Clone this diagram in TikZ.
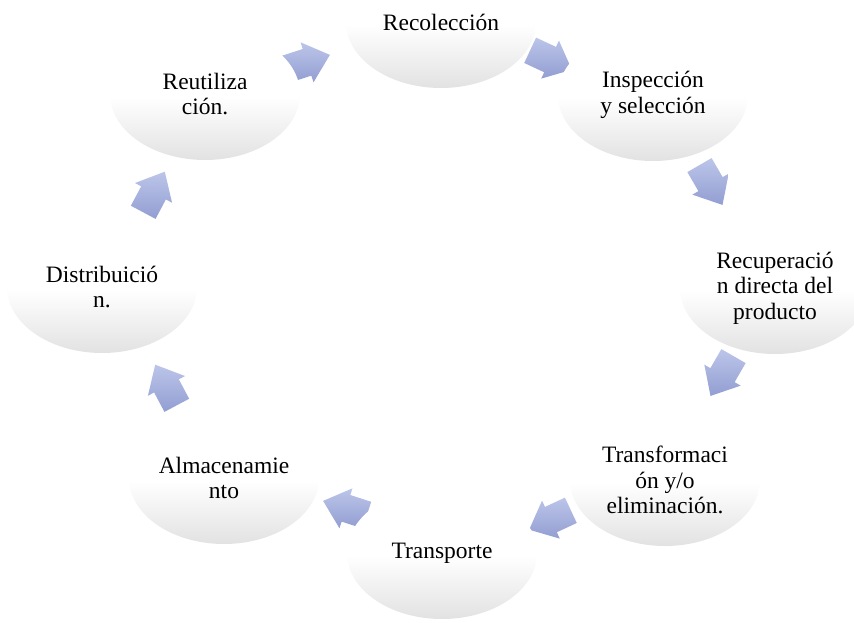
\documentclass[tikz,border=0pt]{standalone}
\usepackage{fontspec}
\setmainfont{Liberation Serif}
\usepackage{tikz}
\usetikzlibrary{shapes.geometric}

\definecolor{arrowtop}{RGB}{188,197,233}
\definecolor{arrowbot}{RGB}{146,158,210}
\definecolor{stagegray}{RGB}{226,226,226}
\pgfdeclareverticalshading{stageshade}{100bp}{color(0bp)=(stagegray); color(25bp)=(stagegray);
  color(49bp)=(white); color(100bp)=(white)}

\begin{document}
\begin{tikzpicture}[
  x=1pt, y=-1pt,
  every node/.style={font=\fontsize{23.5}{25.5}\selectfont},
  stage/.style={ellipse, minimum width=190pt, minimum height=132pt, align=center, inner sep=0pt,
    shading=stageshade},
  flow/.style={top color=arrowtop, bottom color=arrowbot}
]
\useasboundingbox (0,0) rectangle (854,622);
\clip (0,0) rectangle (854,622);

% Arrows between the stages (under the ellipses)
\coordinate (f1) at (551, 60);
\coordinate (f2) at (711, 185);
\coordinate (f3) at (722, 376);
\coordinate (f4) at (550, 520);
\coordinate (f5) at (345, 508);
\coordinate (f6) at (166, 385);
\coordinate (f7) at (154, 192);
\coordinate (f8) at (308, 62);
\foreach \f/\r in {f1/-25, f2/-60, f3/-120, f4/-155, f5/162, f6/118, f7/62, f8/18} {
  \shade[flow, shift={(\f)}, rotate=\r]
    (-23,-14) -- (-1,-14) -- (-1,-21) -- (23,0) -- (-1,21) -- (-1,14) -- (-23,14) -- cycle;
}

% Stages of the cycle
\node[stage] (rec)    at (441, 22)  {Recolección};
\node[stage] (insp)   at (653, 95)  {Inspección\\y selección};
\node[stage] (recup)  at (775, 288) {Recuperació\\n directa del\\producto};
\node[stage] (transf) at (665, 480) {Transformaci\\ón y/o\\eliminación.};
\node[stage] (transp) at (442, 553) {Transporte};
\node[stage] (alm)    at (224, 478) {Almacenamie\\nto};
\node[stage] (dist)   at (102, 287) {Distribuició\\n.};
\node[stage] (reut)   at (205, 94)  {Reutiliza\\ción.};

\end{tikzpicture}
\end{document}
